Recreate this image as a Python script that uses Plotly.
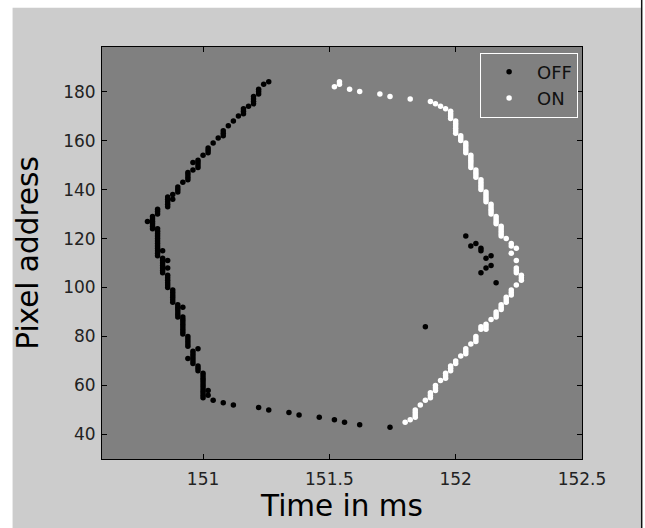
import plotly.graph_objects as go

# ---------------- data (time in ms, pixel address) ----------------
off_t = [
    151.26, 151.24, 151.22, 151.22, 151.22, 151.20, 151.20, 151.20, 151.20, 151.18,
    151.16, 151.16, 151.16, 151.14, 151.12, 151.10, 151.08, 151.08, 151.08, 151.06,
    151.04, 151.02, 151.02, 151.02, 151.00, 150.98, 150.98, 150.98, 150.98, 150.96,
    150.96, 150.94, 150.94, 150.94, 150.94, 150.92, 150.90, 150.90, 150.90, 150.88,
    150.88, 150.86, 150.86, 150.86, 150.86, 150.86, 150.82, 150.82, 150.82, 150.80,
    150.80, 150.80, 150.80, 150.80, 150.80, 150.78,
    150.82, 150.82, 150.82, 150.82, 150.82, 150.82, 150.82, 150.82, 150.82, 150.82,
    150.82, 150.82,
    150.84, 150.84, 150.84, 150.84, 150.84, 150.84, 150.84, 150.84,
    150.86, 150.86, 150.86, 150.86, 150.86, 150.86, 150.86, 150.86,
    150.88, 150.88, 150.88, 150.88, 150.88, 150.88,
    150.90, 150.90, 150.90, 150.90, 150.90, 150.90,
    150.92, 150.92, 150.92, 150.92, 150.92, 150.92, 150.92, 150.92, 150.92,
    150.94, 150.94, 150.94, 150.94, 150.94, 150.94,
    150.96, 150.96, 150.96, 150.96, 150.96, 150.96,
    150.98, 150.98, 150.98, 150.98,
    151.00, 151.00, 151.00, 151.00, 151.00, 151.00, 151.00, 151.00, 151.00, 151.00, 151.00,
    151.02, 151.02, 151.04, 151.08, 151.12, 151.22, 151.26, 151.34, 151.38, 151.46,
    151.52, 151.56, 151.62, 151.74,
    151.88,
    152.04, 152.06, 152.08, 152.10, 152.10, 152.12, 152.12, 152.14, 152.14, 152.10, 152.16,
]
off_addr = [
    184, 183, 181, 180, 179, 178, 177, 176, 175, 174,
    173, 172, 171, 170, 168, 166, 164, 163, 162, 161,
    159, 157, 156, 155, 154, 152, 151, 150, 149, 151,
    148, 147, 146, 145, 144, 143, 141, 140, 139, 138,
    136, 137, 136, 135, 134, 133, 132, 131, 130, 129,
    128, 127, 126, 125, 124, 127,
    124, 123, 122, 121, 120, 119, 118, 117, 116, 115,
    114, 113,
    115, 112, 111, 110, 109, 108, 107, 106,
    111, 108, 105, 104, 103, 102, 101, 100,
    99, 98, 97, 96, 95, 94,
    93, 92, 91, 90, 89, 88,
    92, 88, 87, 86, 85, 84, 83, 82, 81,
    80, 79, 78, 77, 76, 71,
    74, 73, 72, 71, 70, 69,
    75, 68, 67, 66,
    65, 64, 63, 62, 61, 60, 59, 58, 57, 56, 55,
    58, 56, 54, 53, 52, 51, 50, 49, 48, 47,
    46, 45, 44, 43,
    84,
    121, 117, 118, 116, 115, 112, 108, 113, 109, 106, 102,
]

on_t = [
    151.52, 151.54, 151.54, 151.58, 151.62, 151.70, 151.74, 151.82, 151.90, 151.92,
    151.94, 151.96,
    151.98, 151.98, 151.98, 151.98,
    152.00, 152.00, 152.00, 152.00, 152.00, 152.00,
    152.02, 152.02, 152.02,
    152.04, 152.04, 152.04, 152.04, 152.04,
    152.06, 152.06, 152.06, 152.06, 152.06, 152.06,
    152.08, 152.08, 152.08, 152.08,
    152.10, 152.10, 152.10, 152.10, 152.10,
    152.12, 152.12, 152.12, 152.12, 152.12,
    152.14, 152.14, 152.14, 152.14, 152.14,
    152.16, 152.16, 152.16, 152.16,
    152.18, 152.18, 152.18, 152.18, 152.18,
    152.20, 152.22, 152.22, 152.24, 152.22,
    152.24, 152.24, 152.24, 152.24,
    152.26, 152.26, 152.26, 152.24,
    152.22, 152.22, 152.22, 152.20, 152.20, 152.20,
    152.18, 152.18, 152.18, 152.16, 152.16, 152.16, 152.14,
    152.12, 152.12, 152.12, 152.10, 152.10,
    152.08, 152.08, 152.08, 152.06, 152.04, 152.04, 152.04, 152.02,
    152.00, 152.00, 151.98, 151.98, 151.98, 151.96, 151.96, 151.96, 151.94,
    151.92, 151.92, 151.92, 151.90, 151.90, 151.90, 151.88, 151.86,
    151.84, 151.84, 151.84, 151.84, 151.82, 151.80,
]
on_addr = [
    182, 184, 183, 181, 180, 179, 178, 177, 176, 175,
    174, 173,
    172, 171, 170, 169,
    168, 167, 166, 165, 164, 163,
    162, 161, 160,
    159, 158, 157, 156, 155,
    154, 153, 152, 151, 150, 149,
    148, 147, 146, 145,
    144, 143, 142, 141, 140,
    139, 138, 137, 136, 135,
    134, 133, 132, 131, 130,
    129, 128, 127, 126,
    125, 124, 123, 122, 121,
    120, 118, 117, 116, 114,
    111, 108, 107, 106,
    105, 104, 103, 101,
    99, 98, 97, 96, 95, 94,
    93, 92, 91, 90, 89, 88, 87,
    85, 84, 83, 84, 83,
    80, 79, 78, 77, 75, 74, 73, 72,
    70, 69, 68, 67, 66, 65, 64, 63, 62,
    60, 59, 58, 57, 56, 55, 54, 52,
    50, 49, 48, 47, 46, 45,
]

x_ticks = [151, 151.5, 152, 152.5]
x_tick_labels = ["151", "151.5", "152", "152.5"]
y_ticks = [40, 60, 80, 100, 120, 140, 160, 180]
x_range = [150.6, 152.5]
y_range = [30, 198.2]

FONT = "DejaVu Sans"

fig = go.Figure()
fig.add_trace(go.Scatter(x=off_t, y=off_addr, mode="markers", name="OFF",
                         marker=dict(color="black", size=5.5, line=dict(width=0))))
fig.add_trace(go.Scatter(x=on_t, y=on_addr, mode="markers", name="ON",
                         marker=dict(color="white", size=5.5, line=dict(width=0))))

# figure frame decorations (MATLAB-like window look)
shapes = [
    dict(type="rect", xref="paper", yref="paper", x0=-0.3, x1=-0.1863, y0=-0.3, y1=1.3,
         fillcolor="white", line=dict(width=0), layer="below"),
    dict(type="rect", xref="paper", yref="paper", x0=-0.3, x1=1.3, y0=1.0951, y1=1.3,
         fillcolor="white", line=dict(width=0), layer="below"),
    dict(type="rect", xref="paper", yref="paper", x0=1.1228, x1=1.3, y0=-0.3, y1=1.3,
         fillcolor="white", line=dict(width=0), layer="below"),
    dict(type="rect", xref="paper", yref="paper", x0=1.1228, x1=1.1259, y0=-0.3, y1=1.3,
         fillcolor="#111111", line=dict(width=0), layer="below"),
]

axis_common = dict(showline=True, linecolor="black", linewidth=1, mirror="ticks",
                   ticks="inside", ticklen=5, tickcolor="black", tickwidth=1,
                   showgrid=False, zeroline=False,
                   tickfont=dict(family=FONT, size=17, color="#222222"))

fig.update_layout(
    width=645, height=528,
    margin=dict(l=101.5, r=63, t=46.7, b=63.7, pad=0),
    paper_bgcolor="#cccccc",
    plot_bgcolor="#808080",
    shapes=shapes,
    showlegend=True,
    legend=dict(x=0.7877, y=0.9866, xanchor="left", yanchor="top",
                bgcolor="rgba(0,0,0,0)", bordercolor="white", borderwidth=1,
                font=dict(family=FONT, size=18, color="#111111"),
                itemwidth=46),
    xaxis=dict(range=x_range, tickvals=x_ticks, ticktext=x_tick_labels,
               title=dict(text="Time in ms", font=dict(family=FONT, size=29.5, color="black"),
                          standoff=6),
               ticklabelstandoff=5,
               **axis_common),
    yaxis=dict(range=y_range, tickvals=y_ticks,
               title=dict(text="Pixel address", font=dict(family=FONT, size=29.5, color="black"),
                          standoff=15),
               ticklabelstandoff=2,
               **axis_common),
)

fig.write_html("out.html")
